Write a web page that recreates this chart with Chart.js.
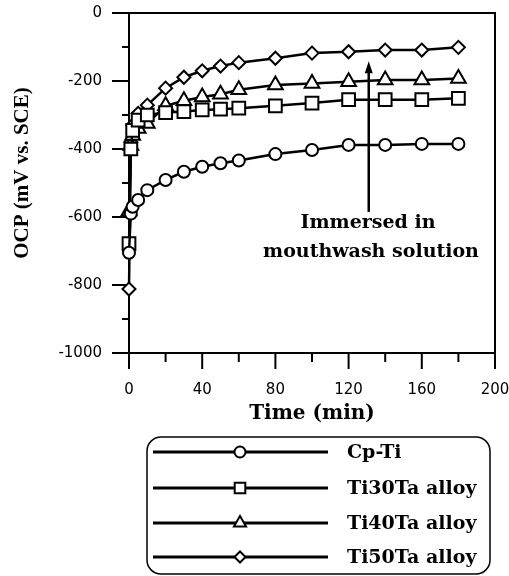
<!DOCTYPE html>
<html>
<head>
<meta charset="utf-8">
<script src="https://cdn.jsdelivr.net/npm/chart.js@4.4.1/dist/chart.umd.min.js"></script>
<style>
  html, body { margin: 0; padding: 0; background: #fff; }
  canvas { display: block; }
</style>
</head>
<body>
<canvas id="ocpChart" width="509" height="576"></canvas>
<script>
// time after immersion (min)
const times = [0, 1, 2, 5, 10, 20, 30, 40, 50, 60, 80, 100, 120, 140, 160, 180];

// OCP values (mV vs. SCE)
const cpTi   = [-705, -590, -570, -550, -521, -491, -467, -452, -442, -434, -415, -403, -388, -388, -385, -385];
const ti30Ta = [-678, -400, -345, -315, -300, -293, -290, -285, -283, -280, -273, -265, -255, -255, -255, -251];
const ti40Ta = [-582, -390, -360, -340, -325, -273, -258, -247, -239, -226, -212, -207, -202, -197, -197, -193];
const ti50Ta = [-812, -380, -330, -295, -271, -221, -189, -170, -156, -146, -133, -118, -114, -109, -109, -101];

const seriesNames = ['Cp-Ti', 'Ti30Ta alloy', 'Ti40Ta alloy', 'Ti50Ta alloy'];

const xTickLabels = [0, 40, 80, 120, 160, 200];
const yTickLabels = [0, -200, -400, -600, -800, -1000];

const serif = 'DejaVu Serif';

function makeSet(label, values, style, radius) {
    return {
        label: label,
        data: times.map(function (t, i) { return { x: t, y: values[i] }; }),
        borderColor: '#000',
        borderWidth: 2.5,
        backgroundColor: '#fff',
        pointStyle: style,
        pointRadius: radius,
        pointBorderWidth: 2,
        pointBackgroundColor: '#fff',
        pointBorderColor: '#000',
        tension: 0,
        clip: false
    };
}

// frame, minor ticks, arrow + note, and the boxed legend
var decorations = {
    id: 'decorations',
    beforeDatasetsDraw: function (chart) {
        var ctx = chart.ctx, a = chart.chartArea;
        var xs = chart.scales.x, ys = chart.scales.y;
        ctx.save();
        ctx.strokeStyle = '#000';
        ctx.lineWidth = 2;
        ctx.strokeRect(a.left, a.top, a.right - a.left, a.bottom - a.top);

        ctx.beginPath();
        for (var i = 0; i < xTickLabels.length; i++) {
            var px = xs.getPixelForValue(xTickLabels[i]);
            ctx.moveTo(px, a.bottom);
            ctx.lineTo(px, a.bottom + 16);
            if (i < xTickLabels.length - 1) {
                var mx = xs.getPixelForValue((xTickLabels[i] + xTickLabels[i + 1]) / 2);
                ctx.moveTo(mx, a.bottom);
                ctx.lineTo(mx, a.bottom + 9);
            }
        }
        for (var j = 0; j < yTickLabels.length; j++) {
            var py = ys.getPixelForValue(yTickLabels[j]);
            ctx.moveTo(a.left - 17, py);
            ctx.lineTo(a.left, py);
            if (j < yTickLabels.length - 1) {
                var my = ys.getPixelForValue((yTickLabels[j] + yTickLabels[j + 1]) / 2);
                ctx.moveTo(a.left - 7, my);
                ctx.lineTo(a.left, my);
            }
        }
        ctx.stroke();
        ctx.restore();
    },
    afterDraw: function (chart) {
        var ctx = chart.ctx;
        var xs = chart.scales.x, ys = chart.scales.y;
        ctx.save();

        // arrow
        var ax = xs.getPixelForValue(131);
        var yTop = ys.getPixelForValue(-142), yBot = ys.getPixelForValue(-585);
        ctx.strokeStyle = '#000';
        ctx.fillStyle = '#000';
        ctx.lineWidth = 2.5;
        ctx.beginPath();
        ctx.moveTo(ax, yBot);
        ctx.lineTo(ax, yTop + 8);
        ctx.stroke();
        ctx.beginPath();
        ctx.moveTo(ax, yTop);
        ctx.lineTo(ax - 4, yTop + 12);
        ctx.lineTo(ax + 4, yTop + 12);
        ctx.closePath();
        ctx.fill();

        ctx.font = 'bold 19px "' + serif + '"';
        ctx.textAlign = 'center';
        ctx.textBaseline = 'middle';
        ctx.fillText('Immersed in', 368, 223);
        ctx.fillText('mouthwash solution', 371, 252);

        // y axis title, centred where the original sits
        ctx.save();
        ctx.translate(23, 173);
        ctx.rotate(-Math.PI / 2);
        ctx.font = 'bold 21px "Liberation Serif"';
        ctx.fillText('OCP (mV vs. SCE)', 0, 0);
        ctx.restore();

        // legend box
        ctx.lineWidth = 1.5;
        ctx.beginPath();
        ctx.roundRect(147, 437, 343, 137, 14);
        ctx.stroke();

        var rows = [452, 488, 523, 557];
        var sizes = [5.5, 7.5, 7, 5.5];
        chart.data.datasets.forEach(function (ds, k) {
            var y = rows[k];
            ctx.strokeStyle = '#000';
            ctx.lineWidth = 3;
            ctx.beginPath();
            ctx.moveTo(153, y);
            ctx.lineTo(328, y);
            ctx.stroke();
            ctx.fillStyle = '#fff';
            ctx.lineWidth = 2;
            Chart.helpers.drawPoint(ctx, { pointStyle: ds.pointStyle, radius: sizes[k], rotation: 0, borderWidth: 2 }, 240, y);
            ctx.fillStyle = '#000';
            ctx.textAlign = 'left';
            ctx.font = 'bold 19px "' + serif + '"';
            ctx.fillText(ds.label, 347, y + 1);
        });
        ctx.restore();
    }
};

var ctx = document.getElementById('ocpChart').getContext('2d');
var ocpChart = new Chart(ctx, {
    type: 'line',
    data: {
        datasets: [
            makeSet(seriesNames[0], cpTi, 'circle', 6),
            makeSet(seriesNames[1], ti30Ta, 'rect', 9),
            makeSet(seriesNames[2], ti40Ta, 'triangle', 8.5),
            makeSet(seriesNames[3], ti50Ta, 'rectRot', 6.5)
        ]
    },
    options: {
        responsive: false,
        animation: false,
        devicePixelRatio: 1,
        layout: { padding: { left: 0, top: 13, right: 14, bottom: 150 } },
        plugins: {
            legend: { display: false },
            tooltip: { enabled: false }
        },
        scales: {
            x: {
                type: 'linear',
                min: 0,
                max: 200,
                afterBuildTicks: function (scale) {
                    scale.ticks = xTickLabels.map(function (v) { return { value: v }; });
                },
                afterFit: function (scale) {
                    scale.height = 73;
                    scale.paddingLeft = 0;
                    scale.paddingRight = 0;
                },
                grid: { display: false, drawTicks: false },
                border: { display: false },
                ticks: {
                    padding: 28,
                    color: '#000',
                    maxRotation: 0,
                    callback: function (v) { return String(v); },
                    font: { family: 'DejaVu Sans', size: 15 }
                },
                title: {
                    display: true,
                    text: 'Time (min)',
                    color: '#000',
                    padding: { top: 0, bottom: 0 },
                    font: { family: serif, size: 20, weight: 'bold' }
                }
            },
            y: {
                type: 'linear',
                min: -1000,
                max: 0,
                afterBuildTicks: function (scale) {
                    scale.ticks = yTickLabels.map(function (v) { return { value: v }; });
                },
                afterFit: function (scale) {
                    scale.width = 129;
                    scale.paddingTop = 0;
                    scale.paddingBottom = 0;
                },
                grid: { display: false, drawTicks: false },
                border: { display: false },
                ticks: {
                    padding: 27,
                    color: '#000',
                    callback: function (v) { return String(v); },
                    font: { family: 'DejaVu Sans', size: 15 }
                }
            }
        }
    },
    plugins: [decorations]
});
</script>
</body>
</html>
